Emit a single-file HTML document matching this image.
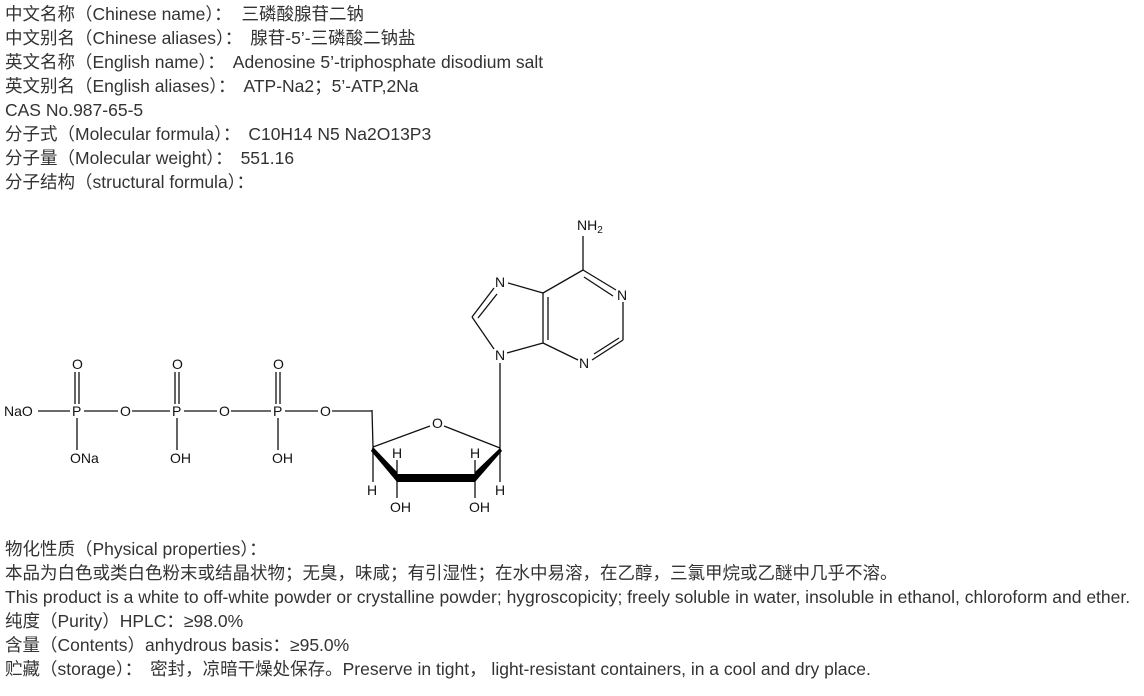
<!DOCTYPE html>
<html><head><meta charset="utf-8"><style>
body{margin:0;width:1144px;height:696px;background:#fff;overflow:hidden;font-family:"Liberation Sans","Noto Sans CJK SC",sans-serif;color:#333;font-size:17.5px}
.t{position:absolute;left:5px;line-height:24px;white-space:nowrap}
.c{margin-right:8px}
svg{position:absolute;left:0;top:0}
svg text{font-family:"Liberation Sans",sans-serif;font-size:14px;fill:#111}
</style></head><body>
<div class="t" style="top:2px">中文名称（Chinese name）<span style="margin-right:5px">：</span> 三磷酸腺苷二钠<br>中文别名（Chinese aliases）<span class="c">：</span>腺苷-5’-三磷酸二钠盐<br>英文名称（English name）<span class="c">：</span>Adenosine 5’-triphosphate disodium salt<br>英文别名（English aliases）<span class="c">：</span>ATP-Na2；5’-ATP,2Na<br>CAS No.987-65-5<br>分子式（Molecular formula）<span class="c">：</span>C10H14 N5 Na2O13P3<br>分子量（Molecular weight）<span class="c">：</span>551.16<br>分子结构（structural formula）<span class="c">：</span></div>
<div class="t" style="top:537px">物化性质（Physical properties）<span class="c">：</span><br>本品为白色或类白色粉末或结晶状物；无臭，味咸；有引湿性；在水中易溶，在乙醇，三氯甲烷或乙醚中几乎不溶。<br>This product is a white to off-white powder or crystalline powder; hygroscopicity; freely soluble in water, insoluble in ethanol, chloroform and ether.<br>纯度（Purity）HPLC：≥98.0%<br>含量（Contents）anhydrous basis：≥95.0%<br>贮藏（storage）<span class="c">：</span>密封，凉暗干燥处保存。Preserve in tight， light-resistant containers, in a cool and dry place.</div>
<svg width="1144" height="696" stroke="#111" stroke-width="1.3" fill="none">
<g stroke="#111">
<line x1="38" y1="411" x2="70" y2="411"/><line x1="84" y1="411" x2="118" y2="411"/><line x1="132" y1="411" x2="170" y2="411"/><line x1="184" y1="411" x2="217" y2="411"/><line x1="231" y1="411" x2="271" y2="411"/><line x1="285" y1="411" x2="318" y2="411"/><line x1="332" y1="411" x2="372" y2="411"/>
<line x1="75" y1="372" x2="75" y2="404"/><line x1="79" y1="372" x2="79" y2="404"/>
<line x1="175" y1="372" x2="175" y2="404"/><line x1="179" y1="372" x2="179" y2="404"/>
<line x1="276" y1="372" x2="276" y2="404"/><line x1="280" y1="372" x2="280" y2="404"/>
<line x1="77" y1="418" x2="77" y2="450"/><line x1="177" y1="418" x2="177" y2="450"/><line x1="278" y1="418" x2="278" y2="450"/>
<line x1="372" y1="410" x2="373" y2="447"/>
<line x1="373" y1="447" x2="430" y2="426"/><line x1="444" y1="426" x2="500" y2="448"/>
<line x1="373" y1="447" x2="373" y2="482"/><line x1="500" y1="448" x2="500" y2="482"/>
<line x1="397" y1="460" x2="397" y2="476"/><line x1="475" y1="460" x2="475" y2="476"/>
<line x1="397" y1="480" x2="397" y2="498"/><line x1="475" y1="480" x2="475" y2="498"/>
<line x1="500" y1="448" x2="500" y2="363"/>
<line x1="507" y1="353" x2="543" y2="343"/><line x1="543" y1="343" x2="543" y2="293"/><line x1="548" y1="340" x2="548" y2="297"/>
<line x1="543" y1="293" x2="508" y2="283"/><line x1="494" y1="288" x2="472" y2="317"/><line x1="497" y1="294" x2="478" y2="318"/>
<line x1="472" y1="317" x2="494" y2="349"/>
<line x1="543" y1="343" x2="578" y2="360"/><line x1="592" y1="360" x2="623" y2="340"/><line x1="594" y1="354" x2="619" y2="338"/>
<line x1="623" y1="340" x2="623" y2="302"/><line x1="616" y1="290" x2="583" y2="270"/><line x1="613" y1="296" x2="584" y2="277"/>
<line x1="583" y1="270" x2="543" y2="293"/><line x1="583" y1="270" x2="583" y2="236"/>
</g>
<polygon points="373,447 397,472 397,482 371,451" fill="#000" stroke="none"/>
<polygon points="397,474 475,474 475,482 397,482" fill="#000" stroke="none"/>
<polygon points="500,448 475,472 475,482 502,451" fill="#000" stroke="none"/>
<g stroke="none">
<text x="4" y="416">NaO</text><text x="72" y="416">P</text><text x="120" y="416">O</text><text x="172" y="416">P</text><text x="219" y="416">O</text><text x="273" y="416">P</text><text x="320" y="416">O</text>
<text x="72" y="369">O</text><text x="172" y="369">O</text><text x="273" y="369">O</text>
<text x="70" y="463">ONa</text><text x="170" y="463">OH</text><text x="272" y="463">OH</text>
<text x="432" y="428">O</text><text x="392" y="458">H</text><text x="470" y="458">H</text><text x="367" y="495">H</text><text x="495" y="495">H</text>
<text x="390" y="512">OH</text><text x="469" y="512">OH</text>
<text x="495" y="360">N</text><text x="495" y="287">N</text><text x="617" y="300">N</text><text x="579" y="368">N</text>
<text x="577" y="230">NH<tspan font-size="10" dy="3">2</tspan></text>
</g>
</svg>
</body></html>
